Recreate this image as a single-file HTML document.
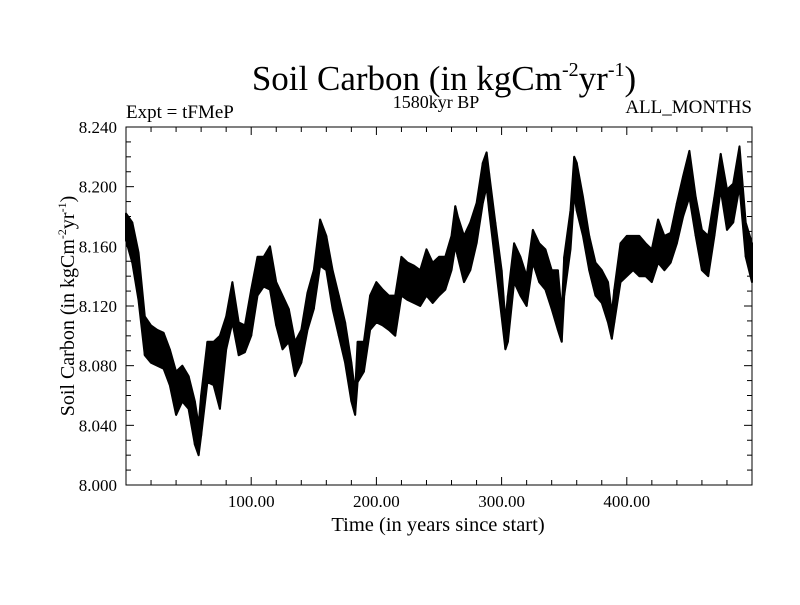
<!DOCTYPE html>
<html><head><meta charset="utf-8"><style>
body{margin:0;background:#fff;}
svg text{font-family:"Liberation Serif",serif;fill:#000;}
</style></head><body>
<svg id="chart" width="800" height="600" xmlns="http://www.w3.org/2000/svg">
<text x="444" y="90" font-size="35" text-anchor="middle">Soil Carbon (in kgCm<tspan font-size="20" dy="-14">-2</tspan><tspan dy="14">yr</tspan><tspan font-size="20" dy="-14">-1</tspan><tspan dy="14">)</tspan></text>
<text x="436" y="108" font-size="18" text-anchor="middle">1580kyr BP</text>
<text x="126" y="118" font-size="19">Expt = tFMeP</text>
<text x="752" y="113" font-size="19" text-anchor="end">ALL_MONTHS</text>
<text x="438" y="531" font-size="20.5" text-anchor="middle">Time (in years since start)</text>
<text transform="translate(74,306) rotate(-90)" font-size="20" text-anchor="middle">Soil Carbon (in kgCm<tspan font-size="12" dy="-8">-2</tspan><tspan dy="8">yr</tspan><tspan font-size="12" dy="-8">-1</tspan><tspan dy="8">)</tspan></text>
<g id="plot"></g>
</svg>
<script>
const years=[0,5,10,15,20,25,30,35,40,45,50,55,58,60,65,70,75,80,85,90,95,100,105,110,115,120,125,130,135,140,145,150,155,160,165,170,175,180,183,185,190,195,200,205,210,215,220,225,230,235,240,245,250,255,260,263,265,270,275,280,285,288,290,295,300,303,305,310,315,320,325,330,335,340,345,348,350,355,358,360,365,370,375,380,385,388,390,395,400,405,410,415,420,425,430,435,440,445,450,455,460,465,470,475,480,485,490,495,500];
const highVals=[8.182,8.176,8.156,8.113,8.107,8.104,8.102,8.091,8.076,8.080,8.073,8.056,8.040,8.060,8.096,8.096,8.100,8.113,8.136,8.109,8.107,8.131,8.153,8.153,8.160,8.136,8.127,8.118,8.096,8.104,8.129,8.144,8.178,8.167,8.144,8.127,8.109,8.082,8.062,8.096,8.096,8.127,8.136,8.131,8.127,8.127,8.153,8.149,8.147,8.144,8.158,8.149,8.153,8.153,8.167,8.187,8.180,8.167,8.176,8.189,8.216,8.223,8.209,8.176,8.144,8.110,8.127,8.162,8.153,8.140,8.171,8.162,8.158,8.144,8.144,8.115,8.153,8.184,8.220,8.216,8.193,8.167,8.149,8.144,8.136,8.115,8.131,8.162,8.167,8.167,8.167,8.162,8.158,8.178,8.167,8.169,8.189,8.207,8.224,8.193,8.171,8.167,8.193,8.222,8.198,8.202,8.227,8.176,8.162];
const lowVals=[8.164,8.149,8.124,8.087,8.082,8.080,8.078,8.067,8.047,8.056,8.051,8.027,8.020,8.033,8.069,8.067,8.051,8.091,8.109,8.087,8.089,8.100,8.127,8.133,8.131,8.107,8.091,8.096,8.073,8.082,8.104,8.118,8.147,8.144,8.118,8.100,8.082,8.056,8.047,8.069,8.076,8.104,8.109,8.107,8.104,8.100,8.127,8.124,8.122,8.120,8.127,8.122,8.127,8.131,8.144,8.160,8.153,8.136,8.144,8.162,8.189,8.200,8.184,8.149,8.113,8.091,8.096,8.136,8.127,8.120,8.149,8.136,8.131,8.118,8.104,8.096,8.127,8.158,8.195,8.184,8.167,8.144,8.127,8.122,8.109,8.098,8.109,8.136,8.140,8.144,8.140,8.140,8.136,8.149,8.144,8.149,8.162,8.180,8.193,8.167,8.144,8.140,8.167,8.198,8.171,8.176,8.200,8.153,8.136];
const yTicks=["8.000","8.040","8.080","8.120","8.160","8.200","8.240"];
const xTicks=["100.00","200.00","300.00","400.00"];

const L=126,R=752,T=127,B=485,X0=0,X1=500,Y0=8.0,Y1=8.24;
const xs=v=>L+(v-X0)/(X1-X0)*(R-L);
const ys=v=>B-(v-Y0)/(Y1-Y0)*(B-T);
const NS="http://www.w3.org/2000/svg";
const g=document.getElementById('plot');
function mk(tag,attrs){const e=document.createElementNS(NS,tag);for(const k in attrs)e.setAttribute(k,attrs[k]);g.appendChild(e);return e;}

const frame=mk('rect',{x:L,y:T,width:R-L,height:B-T,fill:'none',stroke:'#000','stroke-width':1});



for(let v=0;v<=500;v+=20){
  const x=xs(v),len=(v%100===0)?8:5;
  const t1=mk('line',{x1:x,y1:B,x2:x,y2:B-len,stroke:'#000'});
  
  
  const t2=mk('line',{x1:x,y1:T,x2:x,y2:T+len,stroke:'#000'});
  
  
}
for(let i=0;i<=24;i++){
  const v=Y0+i*0.01,y=ys(v),len=(i%4===0)?8:5;
  const t1=mk('line',{x1:L,y1:y,x2:L+len,y2:y,stroke:'#000'});
  
  
  const t2=mk('line',{x1:R,y1:y,x2:R-len,y2:y,stroke:'#000'});
  
  
}
yTicks.forEach(s=>{
  const t=mk('text',{x:117,y:ys(parseFloat(s))+6,'font-size':17,'text-anchor':'end'});
  t.textContent=s;
  
  
});
xTicks.forEach(s=>{
  const t=mk('text',{x:xs(parseFloat(s)),y:507,'font-size':17,'text-anchor':'middle'});
  t.textContent=s;
  
  
});

let d='';
years.forEach((yr,i)=>{d+=(i?'L':'M')+xs(yr).toFixed(1)+','+ys(highVals[i]).toFixed(1);});
for(let i=years.length-1;i>=0;i--){d+='L'+xs(years[i]).toFixed(1)+','+ys(lowVals[i]).toFixed(1);}
d+='Z';
const band=mk('path',{d:d,fill:'#000',stroke:'#000','stroke-width':2,'stroke-linejoin':'round'});


years.forEach((yr,i)=>{
  const l=mk('line',{x1:xs(yr),y1:ys(highVals[i]),x2:xs(yr),y2:ys(lowVals[i]),stroke:'#000','stroke-width':2});
  
  
});
</script>
</body></html>
